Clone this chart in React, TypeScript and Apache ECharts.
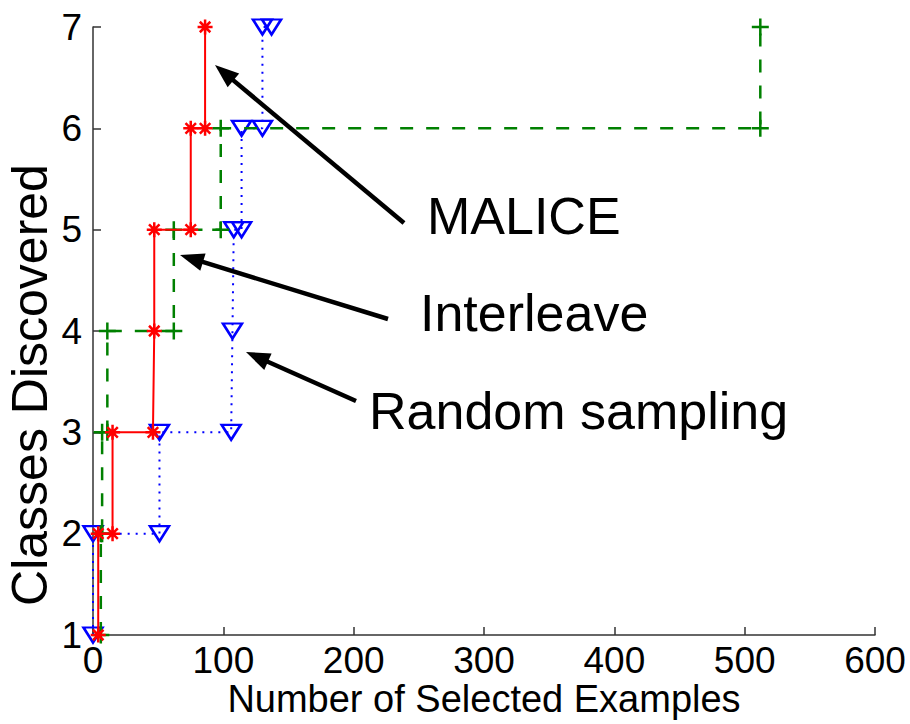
import React, { useEffect, useRef } from "react";
import * as echarts from "echarts";

// Data (x = number of selected examples, y = classes discovered)
const maliceX = [4, 4, 15, 15, 46, 47, 47, 75, 75, 86, 86];
const maliceY = [1, 2, 2, 3, 3, 4, 5, 5, 6, 6, 7];

const interleaveX = [6, 6, 7, 7, 11, 11, 62, 62, 98, 98, 512, 512];
const interleaveY = [1, 2, 2, 3, 3, 4, 4, 5, 5, 6, 6, 7];

const randomX = [0, 0, 51, 51, 106, 107, 108, 114, 114, 130, 130, 137];
const randomY = [1, 2, 2, 3, 3, 4, 5, 5, 6, 6, 7, 7];

const xAxisTitle = "Number of Selected Examples";
const yAxisTitle = "Classes Discovered";

const annotations = [
  { label: "MALICE", textX: 427, textY: 216, tail: [404, 223], tip: [215, 65] },
  { label: "Interleave", textX: 420, textY: 313, tail: [388, 319], tip: [180, 255] },
  { label: "Random sampling", textX: 369, textY: 411, tail: [356, 401], tip: [246, 352] },
];

const AXIS_FONT = "'Liberation Sans', Arial, Helvetica, sans-serif";
const ANNO_FONT = "'Liberation Sans', Arial, Helvetica, sans-serif";

const STAR = "path://M0,-10L0,10M-10,0L10,0M-7,-7L7,7M-7,7L7,-7";
const PLUS = "path://M-10,0L10,0M0,-10L0,10";
const TRI = "path://M-10,-8L10,-8L0,9Z";

function pairs(xs: number[], ys: number[]) {
  return xs.map((x, i) => [x, ys[i]]);
}

function arrow(tail: number[], tip: number[]) {
  const dx = tip[0] - tail[0];
  const dy = tip[1] - tail[1];
  const len = Math.sqrt(dx * dx + dy * dy);
  const ux = dx / len;
  const uy = dy / len;
  const headLen = 24;
  const halfW = 9;
  const bx = tip[0] - ux * headLen;
  const by = tip[1] - uy * headLen;
  const px = -uy;
  const py = ux;
  return [
    {
      type: "line",
      shape: { x1: tail[0], y1: tail[1], x2: bx + ux * 2, y2: by + uy * 2 },
      style: { stroke: "#000", lineWidth: 4.5 },
      z: 100,
    },
    {
      type: "polygon",
      shape: {
        points: [
          [tip[0], tip[1]],
          [bx + px * halfW, by + py * halfW],
          [bx - px * halfW, by - py * halfW],
        ],
      },
      style: { fill: "#000" },
      z: 100,
    },
  ];
}

export default function App() {
  const ref = useRef<HTMLDivElement>(null);

  useEffect(() => {
    if (!ref.current) return;
    const chart = echarts.init(ref.current, undefined, { renderer: "svg" });

    const graphics: any[] = [];
    annotations.forEach((a) => {
      graphics.push(...arrow(a.tail, a.tip));
      graphics.push({
        type: "text",
        x: a.textX,
        y: a.textY,
        z: 100,
        style: {
          text: a.label,
          fontSize: 52,
          fontFamily: ANNO_FONT,
          fill: "#000",
          align: "left",
          verticalAlign: "middle",
        },
      });
    });
    // y-axis title
    graphics.push({
      type: "text",
      x: 30,
      y: 385,
      rotation: Math.PI / 2,
      z: 100,
      style: {
        text: yAxisTitle,
        fontSize: 50,
        fontFamily: AXIS_FONT,
        fill: "#000",
        align: "center",
        verticalAlign: "middle",
      },
    });

    const axisCommon = {
      type: "value" as const,
      axisLine: { show: true, lineStyle: { color: "#333", width: 1.5 } },
      axisTick: { show: true, inside: true, length: 8, lineStyle: { color: "#333", width: 1.5 } },
      axisLabel: { color: "#000", fontSize: 37, fontFamily: AXIS_FONT },
      splitLine: { show: false },
      nameLocation: "middle" as const,
    };

    chart.setOption({
      animation: false,
      backgroundColor: "#fff",
      grid: { left: 93, right: 35, top: 27, bottom: 89, outerBoundsMode: "none", containLabel: false },
      xAxis: {
        ...axisCommon,
        min: 0,
        max: 600,
        interval: 100,
        name: xAxisTitle,
        nameGap: 45,
        nameMoveOverlap: false,
        nameTextStyle: { color: "#000", fontSize: 38, fontFamily: AXIS_FONT },
        axisLabel: { ...axisCommon.axisLabel, margin: 7 },
      },
      yAxis: {
        ...axisCommon,
        min: 1,
        max: 7,
        interval: 1,
        axisLabel: { ...axisCommon.axisLabel, margin: 11 },
      },
      series: [
        {
          name: "Random sampling",
          type: "line",
          data: pairs(randomX, randomY),
          showSymbol: true,
          showAllSymbol: true,
          symbol: TRI,
          symbolSize: [19, 15],
          lineStyle: { color: "#0000ff", width: 2, type: [2, 6] },
          itemStyle: { color: "rgba(255,255,255,0)", borderColor: "#0000ff", borderWidth: 2.5 },
          z: 2,
        },
        {
          name: "Interleave",
          type: "line",
          data: pairs(interleaveX, interleaveY),
          showSymbol: true,
          showAllSymbol: true,
          symbol: PLUS,
          symbolSize: 17,
          lineStyle: { color: "#008000", width: 2.5, type: [13, 13] },
          itemStyle: { color: "rgba(0,0,0,0)", borderColor: "#008000", borderWidth: 2.5 },
          z: 3,
        },
        {
          name: "MALICE",
          type: "line",
          data: pairs(maliceX, maliceY),
          showSymbol: true,
          showAllSymbol: true,
          symbol: STAR,
          symbolSize: 15,
          lineStyle: { color: "#ff0000", width: 2 },
          itemStyle: { color: "rgba(0,0,0,0)", borderColor: "#ff0000", borderWidth: 2.5 },
          z: 4,
        },
      ],
      graphic: graphics,
    });

    return () => {
      chart.dispose();
    };
  }, []);

  return (
    <div
      ref={ref}
      style={{ position: "absolute", left: 0, top: 0, width: 910, height: 724, background: "#fff" }}
    />
  );
}
